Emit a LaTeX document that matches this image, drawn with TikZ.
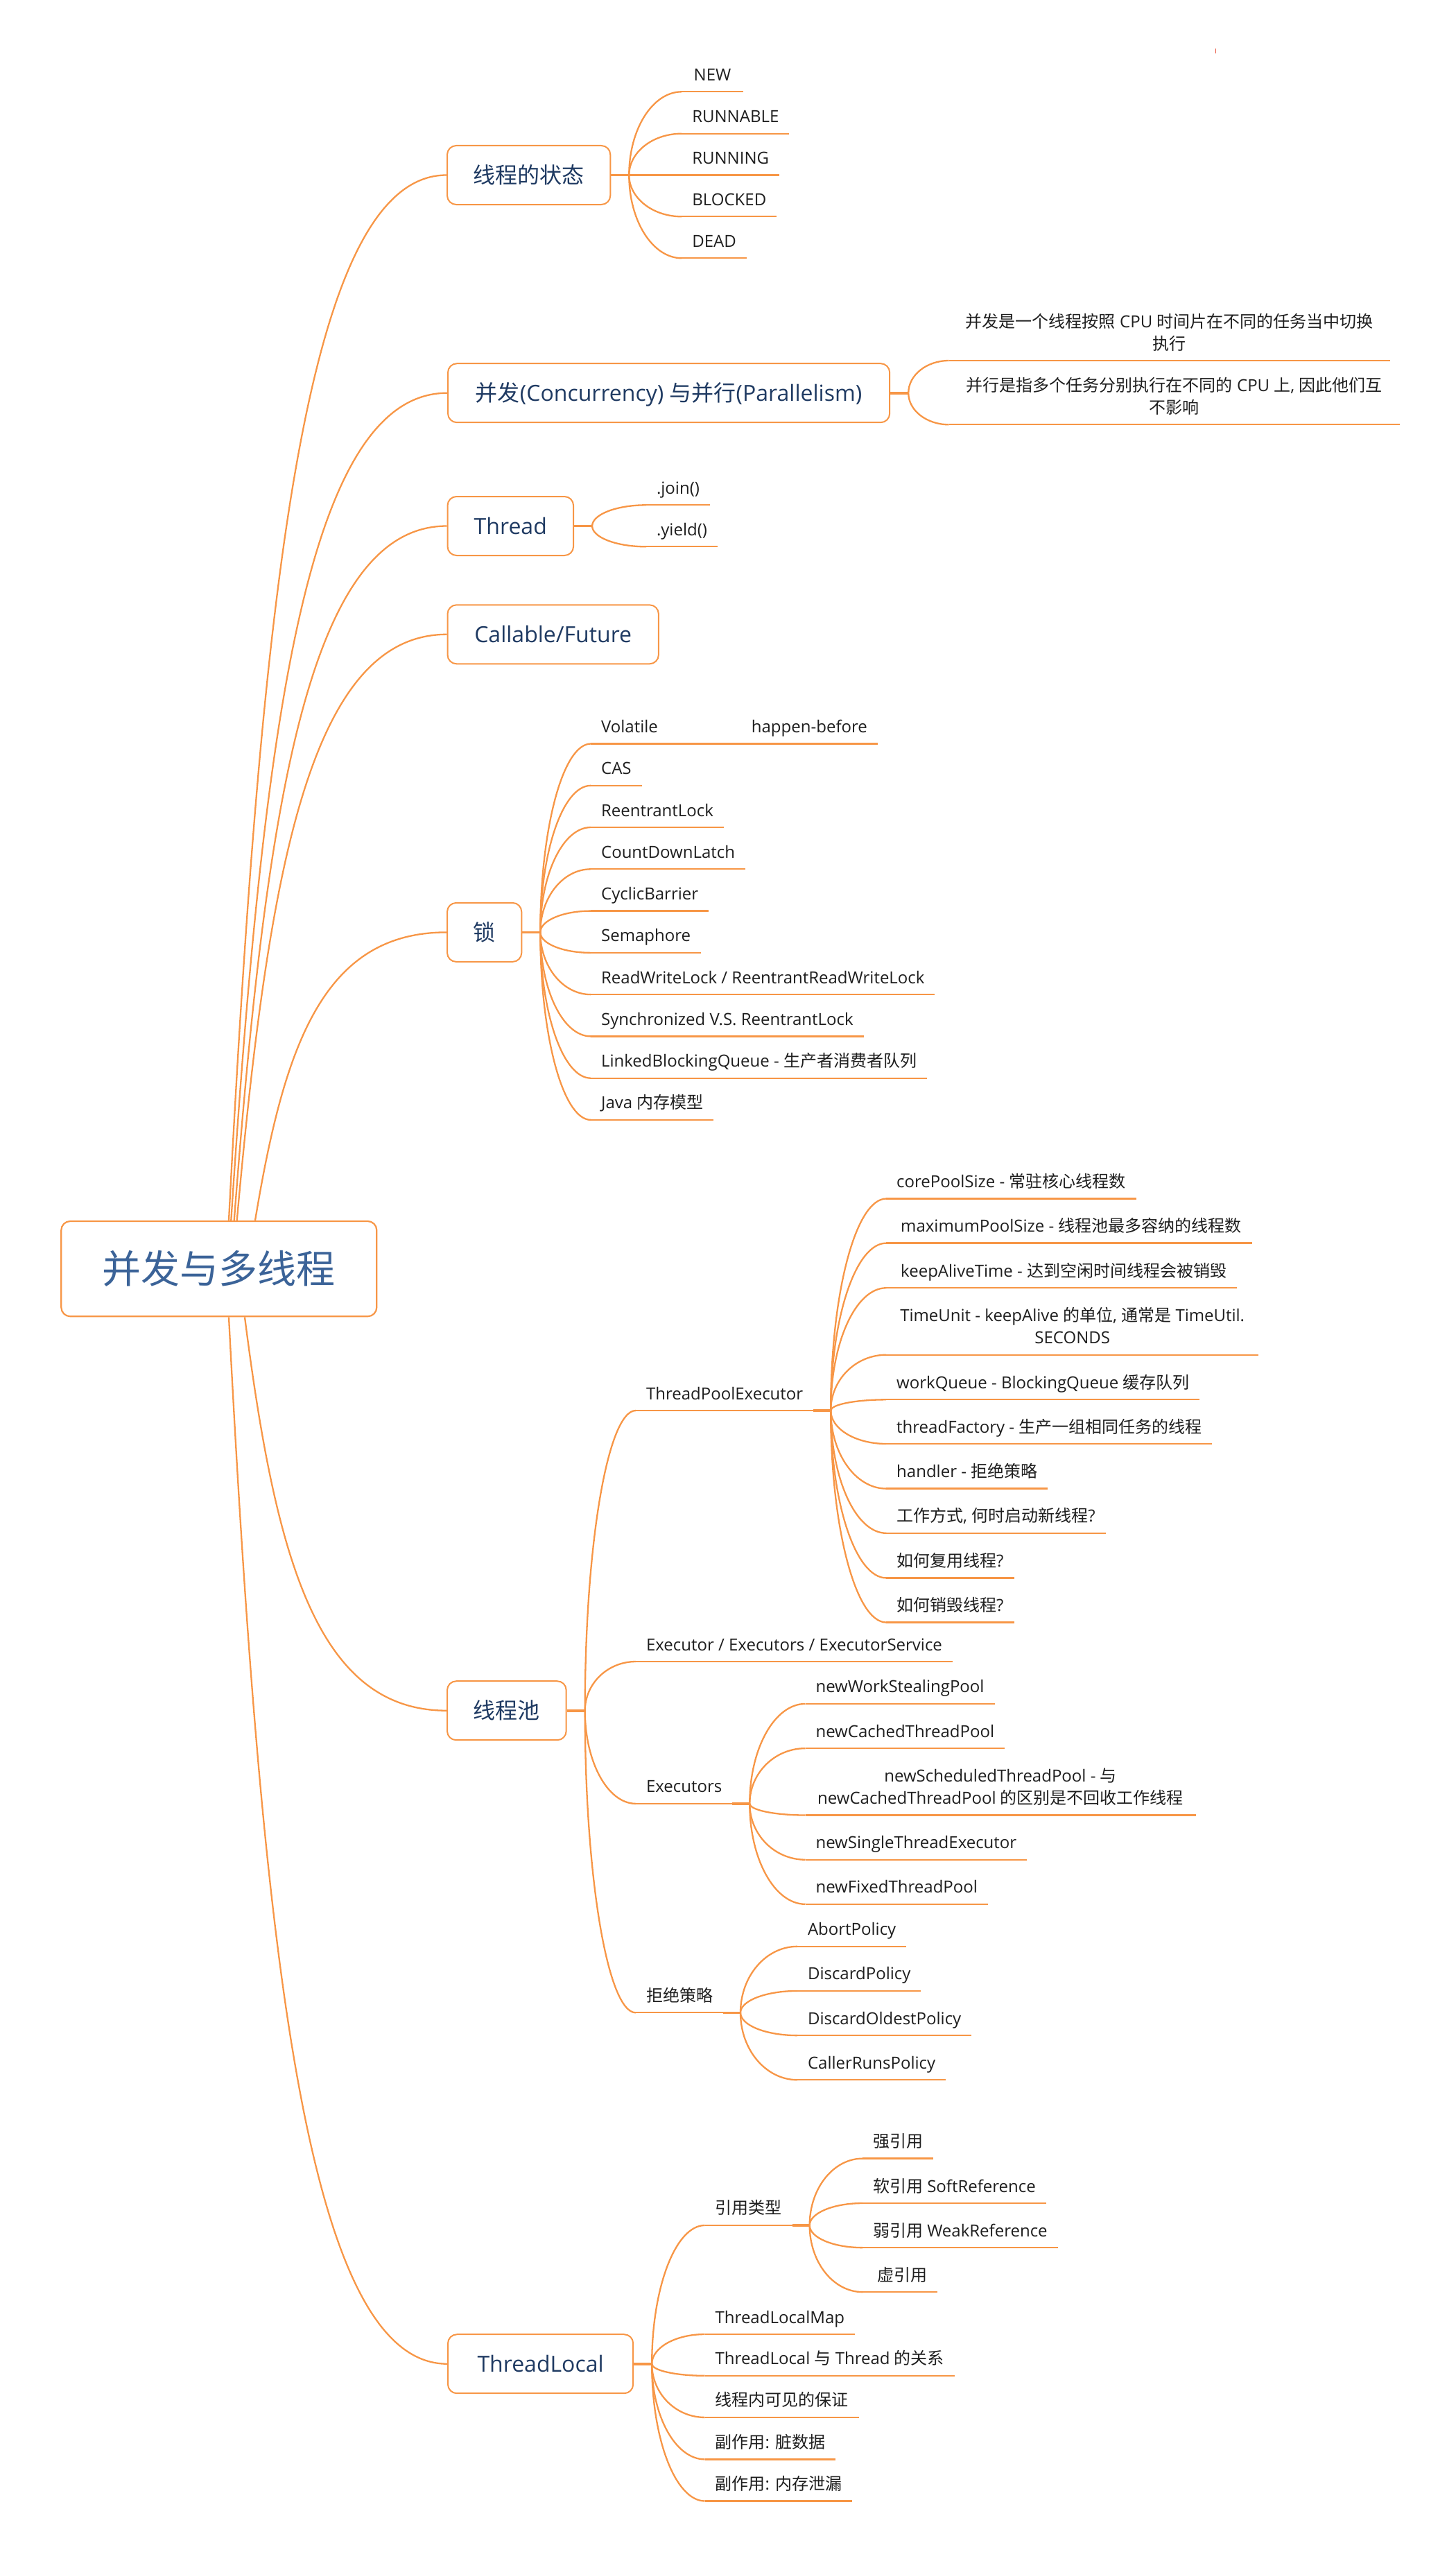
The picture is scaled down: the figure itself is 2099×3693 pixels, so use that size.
\documentclass[tikz,border=0pt]{standalone}
\usepackage{fontspec}
\setmainfont{Open Sans}
\newfontfamily\cjk{Noto Sans CJK SC}
\usetikzlibrary{calc}
\newcommand\zh[1]{{\cjk #1}}
\newcommand\lstrut{\rule[-6pt]{0pt}{24pt}}
\definecolor{lineor}{HTML}{F79646}
\definecolor{rootblue}{HTML}{3B6398}
\definecolor{navy}{HTML}{1F3A62}
\definecolor{leafc}{HTML}{1E1E1E}
\definecolor{tick}{HTML}{E8503A}
\tikzset{
  line/.style={draw=lineor, line width=2.3pt},
  stub/.style={draw=lineor, line width=3.6pt},
  under/.style={draw=lineor, line width=2.3pt},
  rootbox/.style={draw=lineor, line width=2.2pt, rounded corners=13pt, fill=white,
    minimum width=455pt, minimum height=137.3pt, inner sep=0pt,
    font={\cjk\fontsize{56}{60}\selectfont}, text=rootblue, text height=47pt, text depth=4.4pt},
  topicbox/.style={draw=lineor, line width=2pt, rounded corners=13pt, anchor=west,
    minimum height=85pt, inner sep=0pt, font=\fontsize{32}{38}\selectfont,
    text=navy, text height=27pt, text depth=3pt},
  leaf/.style={anchor=south west, inner xsep=15pt, inner ysep=10pt, outer sep=0pt,
    font=\fontsize{24}{32}\selectfont, text=leafc},
}
\newcommand\leafnode[5][]{%
  \node[leaf,#1] (#2) at (#3,#4) {#5};
  \draw[under] (#2.south west) -- (#2.south east);
}
\newcommand\kid[2]{%
  \draw[line] let \p1=(#1), \p2=(#2) in (#1) .. controls
    ({\x1},{0.448*(\y1)+0.552*(\y2)}) and ({0.552*(\x1)+0.448*(\x2)},{\y2}) .. (#2);
}
\newcommand\rootconn[2]{%
  \draw[line] let \p1=(#1), \p2=(#2) in (#1) .. controls
    ({0.85*(\x1)+0.15*(\x2)},{0.4*(\y1)+0.6*(\y2)}) and ({0.65*(\x1)+0.35*(\x2)},{\y2}) .. (#2);
}
\begin{document}
\begin{tikzpicture}[x=1pt,y=-1pt]
\useasboundingbox (0,0) rectangle (2099,3693);

% stray mark
\draw[tick, line width=1.2pt] (1753.3,70) -- (1753.3,77.5);

% root
\node[rootbox] (root) at (315.8,1829.6) {并发与多线程};

% level-1 topics
\node[topicbox, minimum width=235.3pt] (a) at (644,252.5) {\zh{线程的状态}};
\node[topicbox, minimum width=637.2pt] (b) at (645,566.7) {\zh{并发}(Concurrency) \zh{与并行}(Parallelism)};
\node[topicbox, minimum width=181.6pt] (c) at (644.5,758.5) {Thread};
\node[topicbox, minimum width=304.4pt] (d) at (644.5,914.8) {Callable/Future};
\node[topicbox, minimum width=107.3pt] (e) at (644,1344.4) {\zh{锁}};
\node[topicbox, minimum width=171.7pt] (f) at (644,2466.7) {\zh{线程池}};
\node[topicbox, minimum width=267.2pt] (g) at (645,3408.7) {ThreadLocal};

% root connectors
\coordinate (sa) at ($(root.north)+(14.2,0)$);
\coordinate (sb) at ($(root.north)+(17.5,0)$);
\coordinate (sc) at ($(root.north)+(21.9,0)$);
\coordinate (sd) at ($(root.north)+(25.9,0)$);
\coordinate (se) at ($(root.north)+(52.2,0)$);
\coordinate (sf) at ($(root.south)+(37.2,0)$);
\coordinate (sg) at ($(root.south)+(14.2,0)$);
\rootconn{sa}{a.west}
\rootconn{sb}{b.west}
\rootconn{sc}{c.west}
\rootconn{sd}{d.west}
\rootconn{se}{e.west}
\rootconn{sf}{f.west}
\rootconn{sg}{g.west}

% junctions of level-1 topics
\foreach \n in {a,b,c,e,f,g}{
  \coordinate (j\n) at ($(\n.east)+(26,0)$);
  \draw[stub] (\n.east) -- (j\n);
}

% --- 线程的状态
\leafnode[minimum width=88.4pt]{A1}{983.3}{132.3}{\lstrut NEW}
\leafnode{A2}{983.3}{192.7}{\lstrut RUNNABLE}
\leafnode{A3}{983.3}{252.5}{\lstrut RUNNING}
\leafnode{A4}{983.3}{312.3}{\lstrut BLOCKED}
\leafnode{A5}{983.3}{372.3}{\lstrut DEAD}
\foreach \k in {A1,A2,A3,A4,A5}{\kid{ja}{\k.south west}}

% --- 并发与并行
\leafnode[align=center, minimum width=636pt]{B1}{1368.7}{520}{\lstrut\zh{并发是一个线程按照} CPU \zh{时间片在不同的任务当中切换}\\\lstrut\zh{执行}}
\leafnode[align=center, minimum width=650pt]{B2}{1368.7}{612.3}{\lstrut\zh{并行是指多个任务分别执行在不同的} CPU \zh{上}, \zh{因此他们互}\\\lstrut\zh{不影响}}
\kid{jb}{B1.south west}
\kid{jb}{B2.south west}

% --- Thread
\leafnode{C1}{932}{728.3}{\lstrut .join()}
\leafnode{C2}{932}{788.3}{\lstrut .yield()}
\kid{jc}{C1.south west}
\kid{jc}{C2.south west}

% --- 锁
\leafnode{E1}{852.1}{1072.5}{\lstrut Volatile\hspace{135pt}happen-before}
\leafnode{E2}{852.1}{1132.8}{\lstrut CAS}
\leafnode{E3}{852.1}{1193.0}{\lstrut ReentrantLock}
\leafnode{E4}{852.1}{1253.3}{\lstrut CountDownLatch}
\leafnode{E5}{852.1}{1313.6}{\lstrut CyclicBarrier}
\leafnode{E6}{852.1}{1373.9}{\lstrut Semaphore}
\leafnode{E7}{852.1}{1434.1}{\lstrut ReadWriteLock / ReentrantReadWriteLock}
\leafnode{E8}{852.1}{1494.4}{\lstrut Synchronized V.S. ReentrantLock}
\leafnode{E9}{852.1}{1554.7}{\lstrut LinkedBlockingQueue - \zh{生产者消费者队列}}
\leafnode{E10}{852.1}{1614.9}{\lstrut Java \zh{内存模型}}
\foreach \k in {E1,E2,E3,E4,E5,E6,E7,E8,E9,E10}{\kid{je}{\k.south west}}

% --- 线程池
\leafnode{F1}{917}{2034}{\lstrut ThreadPoolExecutor}
\leafnode{F2}{917}{2396}{\lstrut Executor / Executors / ExecutorService}
\leafnode{F3}{917}{2600.9}{\lstrut Executors}
\leafnode{F4}{917}{2902.3}{\lstrut\zh{拒绝策略}}
\foreach \k in {F1,F2,F3,F4}{\kid{jf}{\k.south west}}
\foreach \k in {F1,F3,F4}{
  \coordinate (j\k) at ($(\k.south east)+(25,0)$);
  \draw[stub] (\k.south east) -- (j\k);
}

% ThreadPoolExecutor children
\leafnode{T1}{1278.2}{1728.5}{\lstrut corePoolSize - \zh{常驻核心线程数}}
\leafnode{T2}{1278.2}{1792.6}{\lstrut\hspace*{6pt}maximumPoolSize - \zh{线程池最多容纳的线程数}}
\leafnode{T3}{1278.2}{1857.2}{\lstrut\hspace*{6pt}keepAliveTime - \zh{达到空闲时间线程会被销毁}}
\leafnode[align=center, minimum width=537pt]{T4}{1278.2}{1953.7}{\lstrut TimeUnit - keepAlive \zh{的单位}, \zh{通常是} TimeUtil.\\\lstrut SECONDS}
\leafnode{T5}{1278.2}{2018.3}{\lstrut workQueue - BlockingQueue \zh{缓存队列}}
\leafnode{T6}{1278.2}{2082}{\lstrut threadFactory - \zh{生产一组相同任务的线程}}
\leafnode{T7}{1278.2}{2146.6}{\lstrut handler - \zh{拒绝策略}}
\leafnode{T8}{1278.2}{2210.8}{\lstrut\zh{工作方式}, \zh{何时启动新线程}?}
\leafnode{T9}{1278.2}{2275.4}{\lstrut\zh{如何复用线程}?}
\leafnode{T10}{1278.2}{2339.5}{\lstrut\zh{如何销毁线程}?}
\foreach \k in {T1,T2,T3,T4,T5,T6,T7,T8,T9,T10}{\kid{jF1}{\k.south west}}

% Executors children
\leafnode{X1}{1161.5}{2456.9}{\lstrut newWorkStealingPool}
\leafnode{X2}{1161.5}{2521.1}{\lstrut newCachedThreadPool}
\leafnode[align=center, minimum width=563pt]{X3}{1161.5}{2617.5}{\lstrut newScheduledThreadPool - \zh{与}\\\lstrut newCachedThreadPool \zh{的区别是不回收工作线程}}
\leafnode{X4}{1161.5}{2681.7}{\lstrut newSingleThreadExecutor}
\leafnode{X5}{1161.5}{2745.8}{\lstrut newFixedThreadPool}
\foreach \k in {X1,X2,X3,X4,X5}{\kid{jF3}{\k.south west}}

% 拒绝策略 children
\leafnode{R1}{1150}{2806.8}{\lstrut AbortPolicy}
\leafnode{R2}{1150}{2870.9}{\lstrut DiscardPolicy}
\leafnode{R3}{1150}{2935.1}{\lstrut DiscardOldestPolicy}
\leafnode{R4}{1150}{2999.2}{\lstrut CallerRunsPolicy}
\foreach \k in {R1,R2,R3,R4}{\kid{jF4}{\k.south west}}

% --- ThreadLocal
\leafnode{G1}{1016.7}{3208.9}{\lstrut\zh{引用类型}}
\leafnode{G2}{1016.7}{3366}{\lstrut ThreadLocalMap}
\leafnode{G3}{1016.7}{3425.8}{\lstrut ThreadLocal \zh{与} Thread \zh{的关系}}
\leafnode{G4}{1016.7}{3485.9}{\lstrut\zh{线程内可见的保证}}
\leafnode{G5}{1016.7}{3546.4}{\lstrut\zh{副作用}: \zh{脏数据}}
\leafnode{G6}{1016.7}{3606.5}{\lstrut\zh{副作用}: \zh{内存泄漏}}
\foreach \k in {G1,G2,G3,G4,G5,G6}{\kid{jg}{\k.south west}}
\coordinate (jG1) at ($(G1.south east)+(25,0)$);
\draw[stub] (G1.south east) -- (jG1);

% 引用类型 children
\leafnode{Y1}{1244}{3112.6}{\lstrut\zh{强引用}}
\leafnode{Y2}{1244}{3177}{\lstrut\zh{软引用} SoftReference}
\leafnode{Y3}{1244}{3241.1}{\lstrut\zh{弱引用} WeakReference}
\leafnode{Y4}{1244}{3305.1}{\lstrut\hspace*{6pt}\zh{虚引用}}
\foreach \k in {Y1,Y2,Y3,Y4}{\kid{jG1}{\k.south west}}

\end{tikzpicture}
\end{document}
